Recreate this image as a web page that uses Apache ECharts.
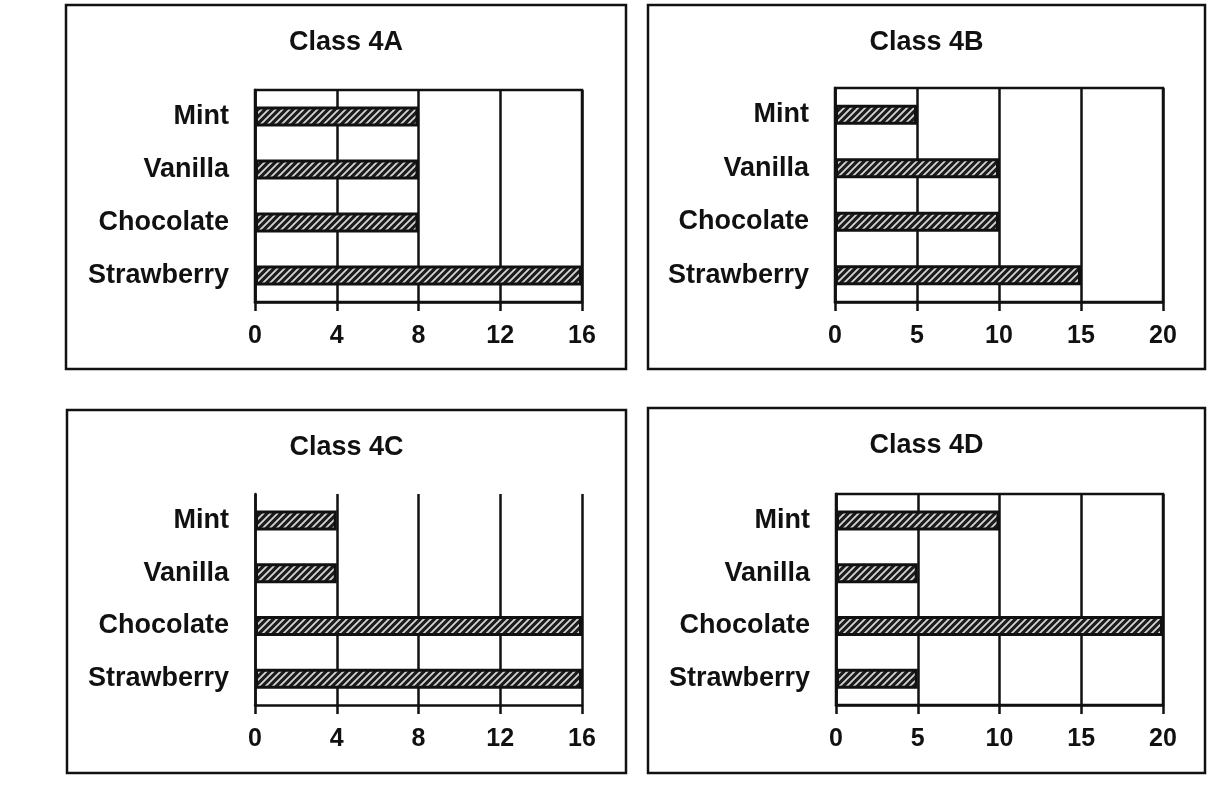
<!DOCTYPE html>
<html>
<head>
<meta charset="utf-8">
<title>Favourite ice cream flavours</title>
<script src="https://cdn.jsdelivr.net/npm/echarts@6/dist/echarts.min.js"></script>
<style>
  html, body { margin: 0; padding: 0; background: #fff; }
  #main { width: 1214px; height: 809px; }
</style>
</head>
<body>
<div id="main"></div>
<script>
// data (bottom category first, as echarts draws y categories upwards)
var flavours = ['Strawberry', 'Chocolate', 'Vanilla', 'Mint'];
var classNames = ['Class 4A', 'Class 4B', 'Class 4C', 'Class 4D'];
var class4A = [16, 8, 8, 8];
var class4B = [15, 10, 10, 5];
var class4C = [16, 16, 4, 4];
var class4D = [5, 20, 5, 10];
var axisMax = [16, 20, 16, 20];
var axisStep = [4, 5, 4, 5];

var seriesData = [class4A, class4B, class4C, class4D];

// layout of the four panels
var grids = [
  { left: 255, top: 90, width: 327, height: 212 },
  { left: 835, top: 88, width: 328, height: 214 },
  { left: 255, top: 494, width: 327, height: 211 },
  { left: 836, top: 494, width: 327, height: 211 }
];
var boxes = [
  { x: 66, y: 5, width: 560, height: 364 },
  { x: 648, y: 5, width: 557, height: 364 },
  { x: 67, y: 410, width: 559, height: 363 },
  { x: 648, y: 408, width: 557, height: 365 }
];
var showTopBorder = [true, true, false, true];

var FONT = '"Liberation Sans", Arial, Helvetica, sans-serif';
var INK = '#111';

// hatched fill for the bars
function hatch() {
  var c = document.createElement('canvas');
  c.width = 7; c.height = 7;
  var g = c.getContext('2d');
  g.fillStyle = '#1c1c1c';
  g.fillRect(0, 0, 7, 7);
  g.strokeStyle = '#d6d6d6';
  g.lineWidth = 1.8;
  g.beginPath();
  g.moveTo(-1, 8); g.lineTo(8, -1);
  g.moveTo(-2, 2); g.lineTo(2, -2);
  g.moveTo(5, 9); g.lineTo(9, 5);
  g.stroke();
  return c;
}
var pattern = { image: hatch(), repeat: 'repeat' };

var myChart = echarts.init(document.getElementById('main'), null, { renderer: 'canvas' });

var option = {
  backgroundColor: '#fff',
  animation: false,
  textStyle: { fontFamily: FONT },
  title: [],
  grid: [],
  xAxis: [],
  yAxis: [],
  series: [],
  graphic: []
};

for (var i = 0; i < 4; i++) {
  var b = boxes[i];
  option.graphic.push({
    type: 'rect',
    shape: { x: b.x, y: b.y, width: b.width, height: b.height },
    style: { fill: null, stroke: INK, lineWidth: 2.5 },
    silent: true
  });
  option.title.push({
    text: classNames[i],
    left: b.x + b.width / 2,
    top: b.y + 24,
    textAlign: 'center',
    padding: 0,
    textStyle: { fontFamily: FONT, fontSize: 27, fontWeight: 'bold', color: INK }
  });
  option.grid.push(Object.assign({
    show: showTopBorder[i],
    borderColor: INK,
    borderWidth: 2.5,
    backgroundColor: 'transparent'
  }, grids[i]));
  option.xAxis.push({
    type: 'value',
    gridIndex: i,
    min: 0,
    max: axisMax[i],
    interval: axisStep[i],
    axisLine: { show: true, lineStyle: { color: INK, width: 2.5 } },
    axisTick: { show: true, length: 9, lineStyle: { color: INK, width: 2.5 } },
    axisLabel: { color: INK, fontSize: 25, fontWeight: 'bold', fontFamily: FONT, margin: 22 },
    splitLine: { show: true, lineStyle: { color: INK, width: 2.5 } }
  });
  option.yAxis.push({
    type: 'category',
    gridIndex: i,
    data: flavours,
    axisLine: { show: true, lineStyle: { color: INK, width: 2.5 } },
    axisTick: { show: false },
    axisLabel: { color: INK, fontSize: 27, fontWeight: 'bold', fontFamily: FONT, margin: 26 },
    splitLine: { show: false }
  });
  option.series.push({
    type: 'bar',
    xAxisIndex: i,
    yAxisIndex: i,
    data: seriesData[i],
    barWidth: 20,
    itemStyle: { color: pattern, borderColor: INK, borderWidth: 3 }
  });
}

myChart.setOption(option);
</script>
</body>
</html>
